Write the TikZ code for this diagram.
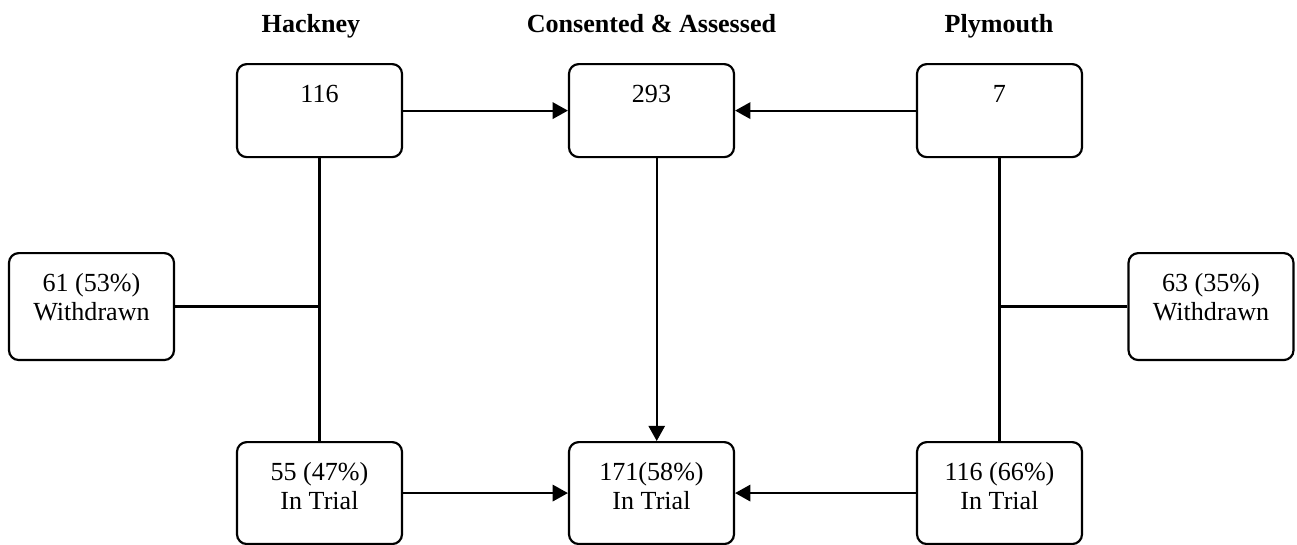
\documentclass[tikz,border=0pt]{standalone}
\usepackage{fontspec}
\setmainfont{Liberation Serif}
\usetikzlibrary{arrows.meta}
\tikzset{
  heading/.style={font=\bfseries\fontsize{12pt}{14pt}\selectfont, inner sep=0pt, anchor=base},
  stage/.style={draw, line width=1pt, rounded corners=4.5pt, anchor=north,
    text width=75.9pt, align=flush center, inner sep=0pt, text height=17.5pt,
    font=\fontsize{12pt}{13.4pt}\selectfont},
  topstage/.style={stage, text depth=25.3pt},
  sidestage/.style={stage, text depth=31.7pt},
  lowstage/.style={stage, text depth=29.4pt}
}
\begin{document}
\begin{tikzpicture}[x=0.46pt, y=-0.46pt]
  \useasboundingbox (0,0) rectangle (1297,544);
  \draw
    (311,32) node[heading] (hackney){Hackney}
    (651.5,32) node[heading] (consented){Consented \& Assessed}
    (999,32) node[heading] (plymouth){Plymouth}
    (319.5,63) node[topstage] (h1){116}
    (651.5,63) node[topstage] (c1){293}
    (999.5,63) node[topstage] (p1){7}
    (91.5,252) node[sidestage] (h2){61 (53\%)\\Withdrawn}
    (1211,252) node[sidestage] (p2){63 (35\%)\\Withdrawn}
    (319.5,441) node[lowstage] (h3){55 (47\%)\\In Trial}
    (651.5,441) node[lowstage] (c3){171(58\%)\\In Trial}
    (999.5,441) node[lowstage] (p3){116 (66\%)\\In Trial};
  \begin{scope}[-{Triangle[length=7pt,width=7.5pt]}, line width=1pt]
    \draw (h1) to (c1);
    \draw (p1) to (c1);
    \draw ([xshift=2.4pt]c1.south) to ([xshift=2.4pt]c3.north);
    \draw (h3) to (c3);
    \draw (p3) to (c3);
  \end{scope}
  \begin{scope}[-, line width=1pt]
    \draw (h1) to (h3);
    \draw (p1) to (p3);
    \draw (h2) to (h2 -| h1);
    \draw (p2) to (p2 -| p1);
  \end{scope}
\end{tikzpicture}
\end{document}
